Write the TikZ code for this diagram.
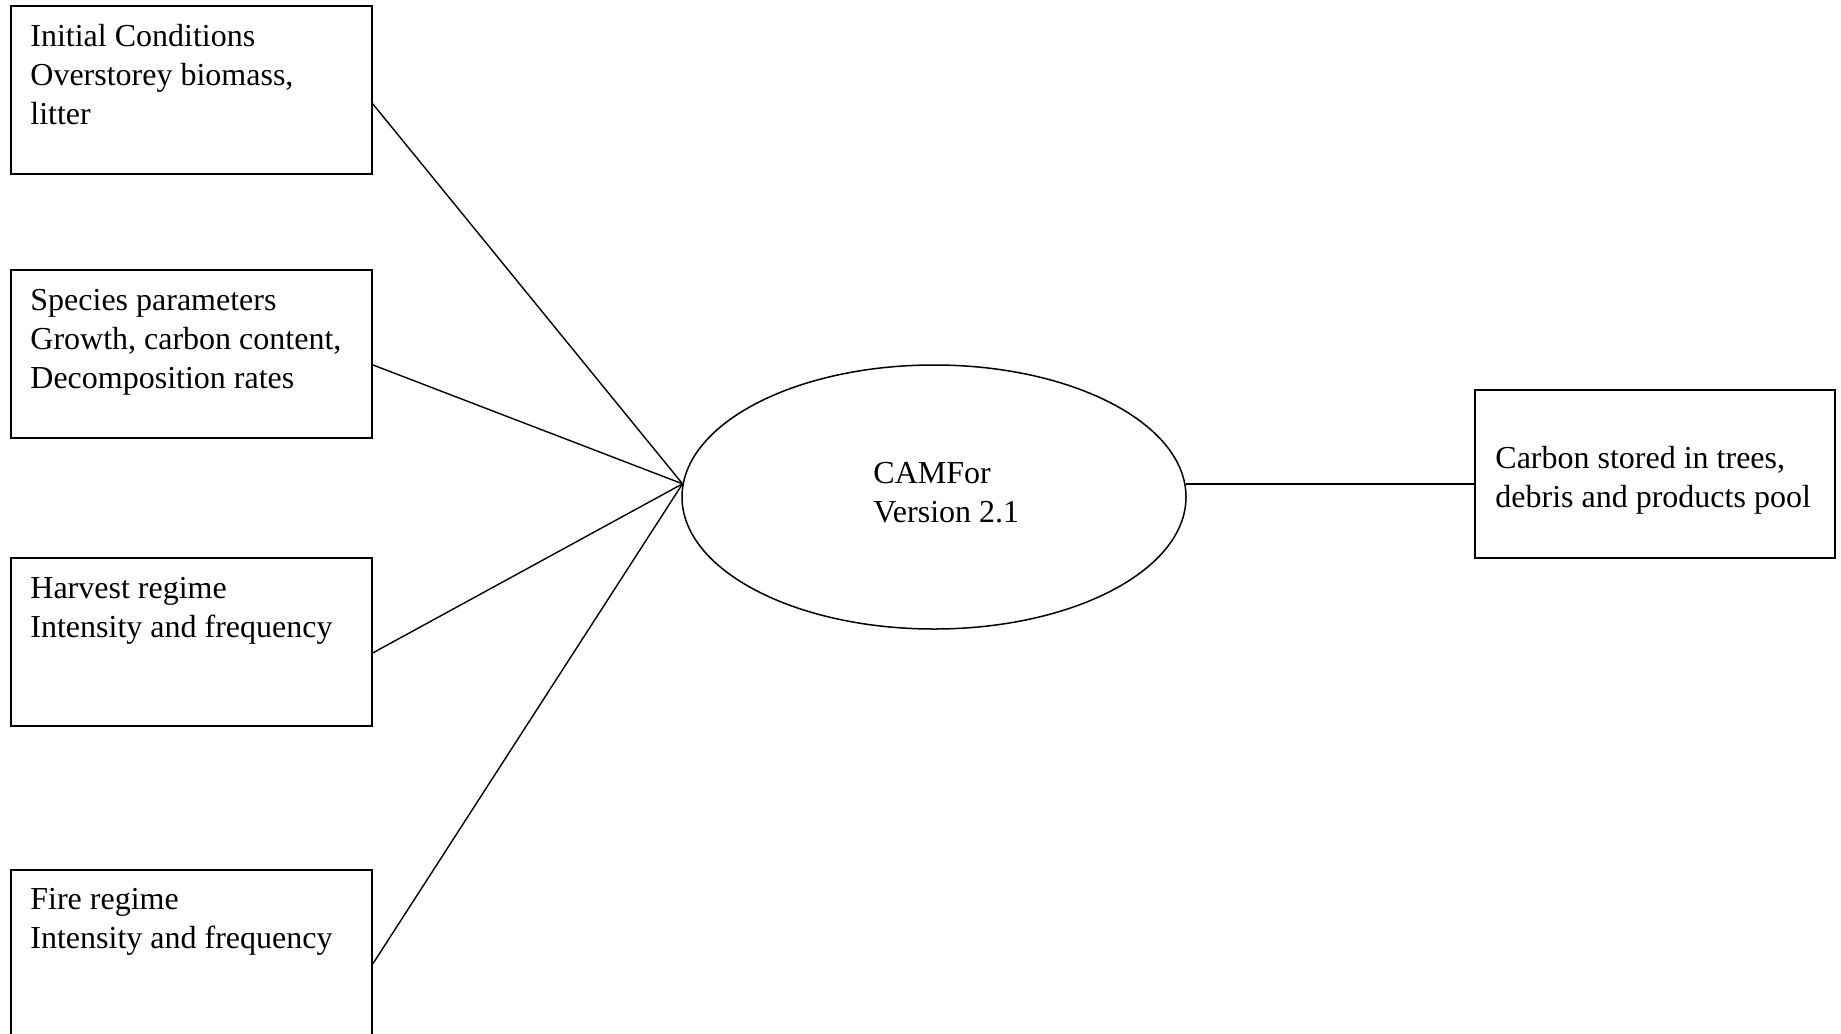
\documentclass[tikz,border=0pt]{standalone}
\usepackage{fontspec}
\setmainfont{Liberation Serif}
\usetikzlibrary{shapes.geometric,calc}
\newcommand\fstrut{\rule{0pt}{14pt}}
\begin{document}
\begin{tikzpicture}[x=0.5pt,y=-0.5pt,
  box/.style={draw, line width=0.9pt, rectangle, anchor=north west,
    minimum width=180.5pt, minimum height=84pt, inner sep=0pt},
  txt/.style={anchor=north west, inner sep=0pt, align=left,
    font=\fontsize{16pt}{19.5pt}\selectfont},
  link/.style={line width=0.7pt}]
\useasboundingbox (0,0) rectangle (1841,1033);
\clip (0,0) rectangle (1841,1033);

% input boxes
\node[box] (b1) at (10,5) {};
\node[box] (b2) at (10,269) {};
\node[box] (b3) at (10,557) {};
\node[box] (b4) at (10,869) {};
% output box
\node[box, minimum width=180pt] (b5) at (1474,389) {};
% model ellipse
\node[ellipse, draw, line width=0.75pt, minimum width=252pt, minimum height=132pt, inner sep=0pt] (ell) at (934,497) {};

% texts
\node[txt] (t1) at ([shift={(20,13)}]b1.north west) {\fstrut Initial Conditions\\Overstorey biomass,\\litter};
\node[txt] (t2) at ([shift={(20,13)}]b2.north west) {\fstrut Species parameters\\Growth, carbon content,\\Decomposition rates};
\node[txt] (t3) at ([shift={(20,13)}]b3.north west) {\fstrut Harvest regime\\Intensity and frequency};
\node[txt] (t4) at ([shift={(20,12)}]b4.north west) {\fstrut Fire regime\\Intensity and frequency};
\node[txt] (t5) at ([shift={(21,51)}]b5.north west) {\fstrut Carbon stored in trees,\\debris and products pool};
\node[txt] (tc) at ([shift={(-61,-42)}]ell.center) {\fstrut CAMFor\\Version 2.1};

% connectors
\coordinate (hub) at (ell.177);
\draw[link] ($(b1.east)+(0,14)$) -- (hub);
\draw[link] ($(b2.east)+(0,11)$) -- (hub);
\draw[link] ($(b3.east)+(0,11)$) -- (hub);
\draw[link] ($(b4.east)+(0,10)$) -- (hub);
\draw[link] (ell.3) -- (ell.3 -| b5.west);
\end{tikzpicture}
\end{document}
